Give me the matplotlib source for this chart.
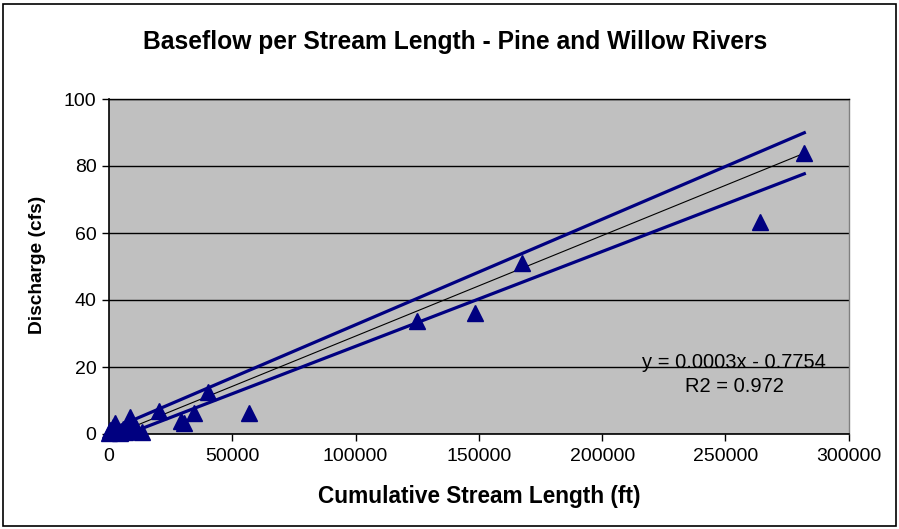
import matplotlib
matplotlib.use("Agg")
import matplotlib.pyplot as plt
import numpy as np
from matplotlib.patches import Rectangle

plt.rcParams['font.family'] = ['Liberation Sans', 'DejaVu Sans']

# Data
stream_length = [0, 500, 1500, 2500, 3500, 4500, 5500, 6500, 7500, 8600, 9500,
                 11000, 13300, 20100, 29000, 30500, 34400, 40300, 56900,
                 125000, 148300, 167600, 264100, 281900]
discharge = [0.3, 1.2, 2.0, 3.3, 0.8, 0.4, 1.5, 0.6, 2.0, 5.2, 1.0,
             1.8, 0.7, 7.0, 3.8, 3.2, 6.2, 12.6, 6.3,
             33.7, 36.1, 51.0, 63.3, 83.9]

fit_slope, fit_intercept = 0.0003, -0.7754
upper_slope, upper_intercept = 0.000315, 1.1
lower_slope, lower_intercept = 0.000283, -2.13
line_x_range = [0, 282000]

x_ticks = [0, 50000, 100000, 150000, 200000, 250000, 300000]
y_ticks = [0, 20, 40, 60, 80, 100]

title = "Baseflow per Stream Length - Pine and Willow Rivers"
xlabel = "Cumulative Stream Length (ft)"
ylabel = "Discharge (cfs)"
eq_text = "y = 0.0003x - 0.7754"
r2_text = "R2 = 0.972"

fig = plt.figure(figsize=(8.99, 5.29), dpi=100)
fig.patch.set_facecolor('white')
fig.add_artist(Rectangle((3/899, 3/529), 893/899, 522/529, transform=fig.transFigure,
                         fill=False, edgecolor='black', linewidth=1.2))

ax = fig.add_axes([109/899, 1 - 434/529, (848.7 - 109)/899, (434 - 99)/529])
ax.set_facecolor('#C0C0C0')

lx = np.array(line_x_range, dtype=float)
ax.plot(lx, upper_slope * lx + upper_intercept, color='#000080', lw=2.3, zorder=3)
ax.plot(lx, lower_slope * lx + lower_intercept, color='#000080', lw=2.3, zorder=3)
ax.plot(lx, fit_slope * lx + fit_intercept, color='black', lw=0.8, zorder=3)

ax.plot(stream_length, discharge, linestyle='none', marker='^', markersize=11.5,
        color='#000080', markeredgecolor='#000080', zorder=4, clip_on=False)

ax.set_xlim(0, 300000)
ax.set_ylim(0, 100)
ax.set_xticks(x_ticks)
ax.set_yticks(y_ticks)
ax.set_xticklabels([str(v) for v in x_ticks])
ax.set_yticklabels([str(v) for v in y_ticks])
ax.tick_params(axis='both', direction='out', length=5, width=1, labelsize=14, colors='black')
ax.tick_params(axis='x', pad=5)
ax.tick_params(axis='y', pad=4)

ax.yaxis.grid(True, color='black', linewidth=1)
ax.set_axisbelow(True)

for s in ['left', 'bottom']:
    ax.spines[s].set_color('black')
    ax.spines[s].set_linewidth(1.2)
ax.spines['top'].set_color('black')
ax.spines['top'].set_linewidth(1.0)
ax.spines['right'].set_color('#808080')
ax.spines['right'].set_linewidth(1.0)

fig.text(455/899, 1 - 42/529, title, ha='center', va='center', fontsize=17.7, fontweight='bold')
fig.text(479/899, 1 - 497/529, xlabel, ha='center', va='center', fontsize=16.3, fontweight='bold')
fig.text(38/899, 1 - 265/529, ylabel, ha='center', va='center', rotation=90, fontsize=13.8, fontweight='bold')

fig.text(734/899, 1 - 363/529, eq_text, ha='center', va='center', fontsize=14.5)
fig.text(734/899, 1 - 387/529, r2_text, ha='center', va='center', fontsize=14.5)

fig.savefig('out.png', dpi=100)
